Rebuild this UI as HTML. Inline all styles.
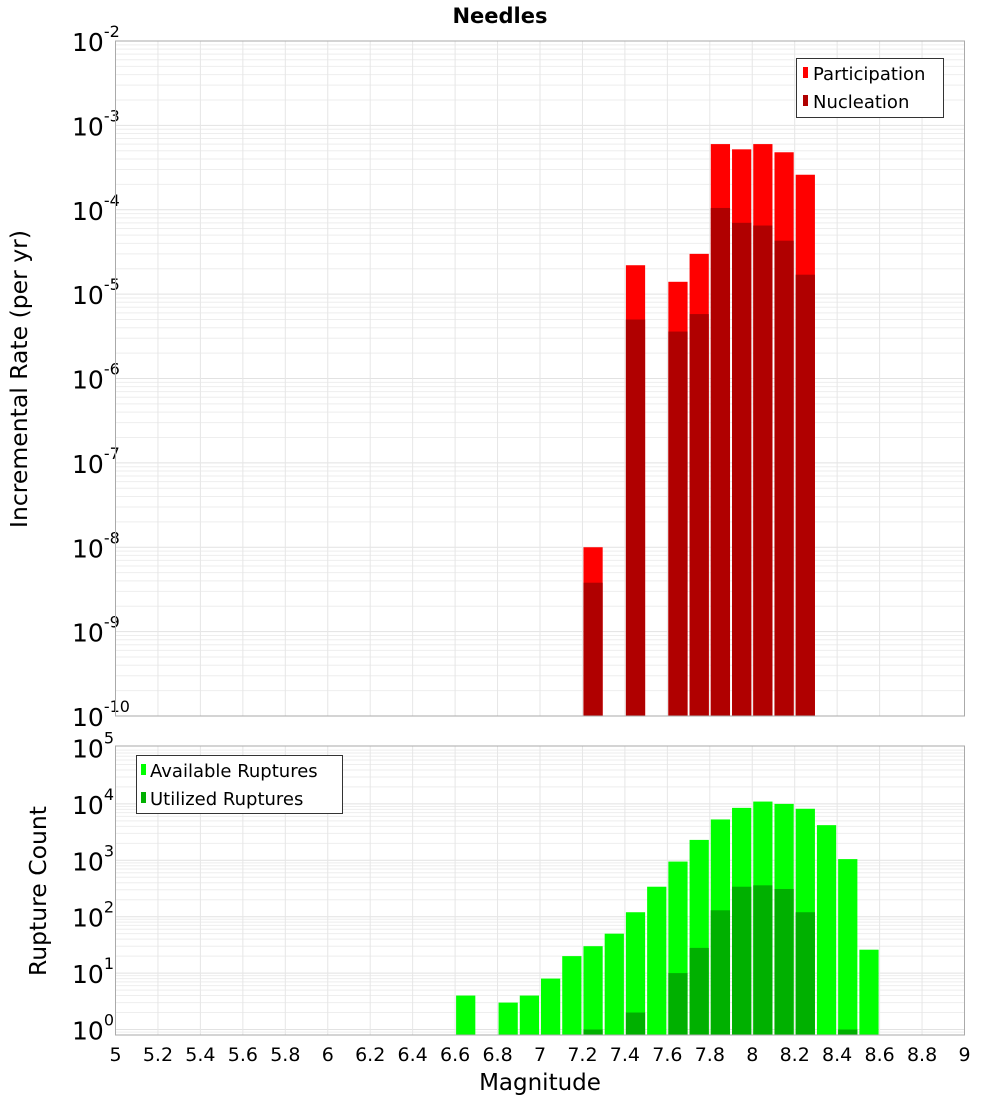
<!DOCTYPE html>
<html><head><meta charset="utf-8"><style>
body{margin:0;background:#fff;}
svg{display:block;font-family:"DejaVu Sans","Liberation Sans",sans-serif;}
</style></head><body>
<svg id="chart" width="1000" height="1100" xmlns="http://www.w3.org/2000/svg">
<text x="500" y="23" text-anchor="middle" font-size="21" font-weight="bold">Needles</text>
<g id="topPlot"></g>
<g id="botPlot"></g>
<text transform="translate(27,379) rotate(-90)" text-anchor="middle" font-size="23.5">Incremental Rate (per yr)</text>
<text transform="translate(46,891) rotate(-90)" text-anchor="middle" font-size="23.5">Rupture Count</text>
<text x="540" y="1090" text-anchor="middle" font-size="23">Magnitude</text>
<g>
<rect x="796.5" y="58.5" width="147" height="59" fill="#fff" stroke="#333"/>
<rect x="803" y="67" width="5" height="11" fill="#ff0000"/>
<text x="813" y="80" font-size="18">Participation</text>
<rect x="803" y="95" width="5" height="11" fill="#b00000"/>
<text x="813" y="108" font-size="18">Nucleation</text>
</g>
<g>
<rect x="136.5" y="755.5" width="206" height="58" fill="#fff" stroke="#333"/>
<rect x="141" y="764" width="5" height="11" fill="#00ff00"/>
<text x="150" y="777" font-size="18">Available Ruptures</text>
<rect x="141" y="792" width="5" height="11" fill="#00b000"/>
<text x="150" y="805" font-size="18">Utilized Ruptures</text>
</g>
</svg>
<script>
const binCenters = [6.65,6.75,6.85,6.95,7.05,7.15,7.25,7.35,7.45,7.55,7.65,7.75,7.85,7.95,8.05,8.15,8.25,8.35,8.45,8.55];
const participation = [0,0,0,0,0,0,1e-8,0,2.2e-5,0,1.4e-5,3e-5,6e-4,5.2e-4,6e-4,4.8e-4,2.6e-4,0,0,0];
const nucleation = [0,0,0,0,0,0,3.8e-9,0,5e-6,0,3.6e-6,5.8e-6,1.05e-4,7e-5,6.5e-5,4.3e-5,1.7e-5,0,0,0];
const available = [4,0,3,4,8,20,30,50,120,340,950,2300,5300,8500,11000,10000,8200,4200,1050,26];
const utilized = [0,0,0,0,0,0,1,0,2,0,10,28,130,340,360,310,120,0,1,0];
const xTicks = [5,5.2,5.4,5.6,5.8,6,6.2,6.4,6.6,6.8,7,7.2,7.4,7.6,7.8,8,8.2,8.4,8.6,8.8,9];
const topDecades = [-10,-9,-8,-7,-6,-5,-4,-3,-2];
const botDecades = [0,1,2,3,4,5];

const NS="http://www.w3.org/2000/svg";
const X0=115.5, X1=964.5;
const xS=m=>X0+(m-5)/4*(X1-X0);
const TY0=716, TY1=41;
const yT=v=>TY0-(Math.log10(v)+10)/8*(TY0-TY1);
const BY0=1035, BY1=746;
const BDEC=56.4, B1=1029.5;
const yB=v=>Math.min(BY0,B1-Math.log10(v)*BDEC);
function mk(parent,tag,attrs){const e=document.createElementNS(NS,tag);for(const k in attrs)e.setAttribute(k,attrs[k]);parent.appendChild(e);return e;}

function frame(g,y0,y1,decs,yfun,lo,hi,name){
  mk(g,'rect',{x:X0,y:y1,width:X1-X0,height:y0-y1,fill:'#fff'});
  for(let d=lo;d<hi;d++){for(let k=1;k<10;k++){const y=yfun(k*Math.pow(10,d));if(y<=y0&&y>=y1){const l=mk(g,'line',{x1:X0,x2:X1,y1:y,y2:y,stroke:k==1?'#e2e2e2':'#eeeeee','stroke-width':1});
    
    }}}
  xTicks.forEach(t=>{const x=xS(t);const l=mk(g,'line',{x1:x,x2:x,y1:y1,y2:y0,stroke:'#e6e6e6'});
    
    });
  decs.forEach(d=>{const y=yfun(Math.pow(10,d));const t=mk(g,'text',{x:72,y:y+10,'font-size':25});t.textContent='10';
    
    
    const s=mk(t,'tspan',{dy:-14,'font-size':16});s.textContent=String(d);});
}
function bars(g,vals,yfun,y0,color,name){
  vals.forEach((v,i)=>{if(v<=0)return;const xa=xS(binCenters[i]-0.05)+1,xb=xS(binCenters[i]+0.05)-1;const y=yfun(v);const r=mk(g,'rect',{x:xa,y:y,width:xb-xa,height:y0-y,fill:color});
    
    });
}
const gTop=document.getElementById('topPlot'), gBot=document.getElementById('botPlot');
frame(gTop,TY0,TY1,topDecades,yT,-10,-2,'rate');
bars(gTop,participation,yT,TY0,'#ff0000','participation');
bars(gTop,nucleation,yT,TY0,'#b00000','nucleation');
mk(gTop,'rect',{x:X0,y:TY1,width:X1-X0,height:TY0-TY1,fill:'none',stroke:'#aaa'});
frame(gBot,BY0,BY1,botDecades,yB,-1,5,'count');
bars(gBot,available,yB,BY0,'#00ff00','available');
bars(gBot,utilized,yB,BY0,'#00b000','utilized');
mk(gBot,'rect',{x:X0,y:BY1,width:X1-X0,height:BY0-BY1,fill:'none',stroke:'#aaa'});
xTicks.forEach(t=>{const tx=mk(gBot,'text',{x:xS(t),y:1061,'text-anchor':'middle','font-size':19});tx.textContent=String(t);
  
  });
</script>
</body></html>
